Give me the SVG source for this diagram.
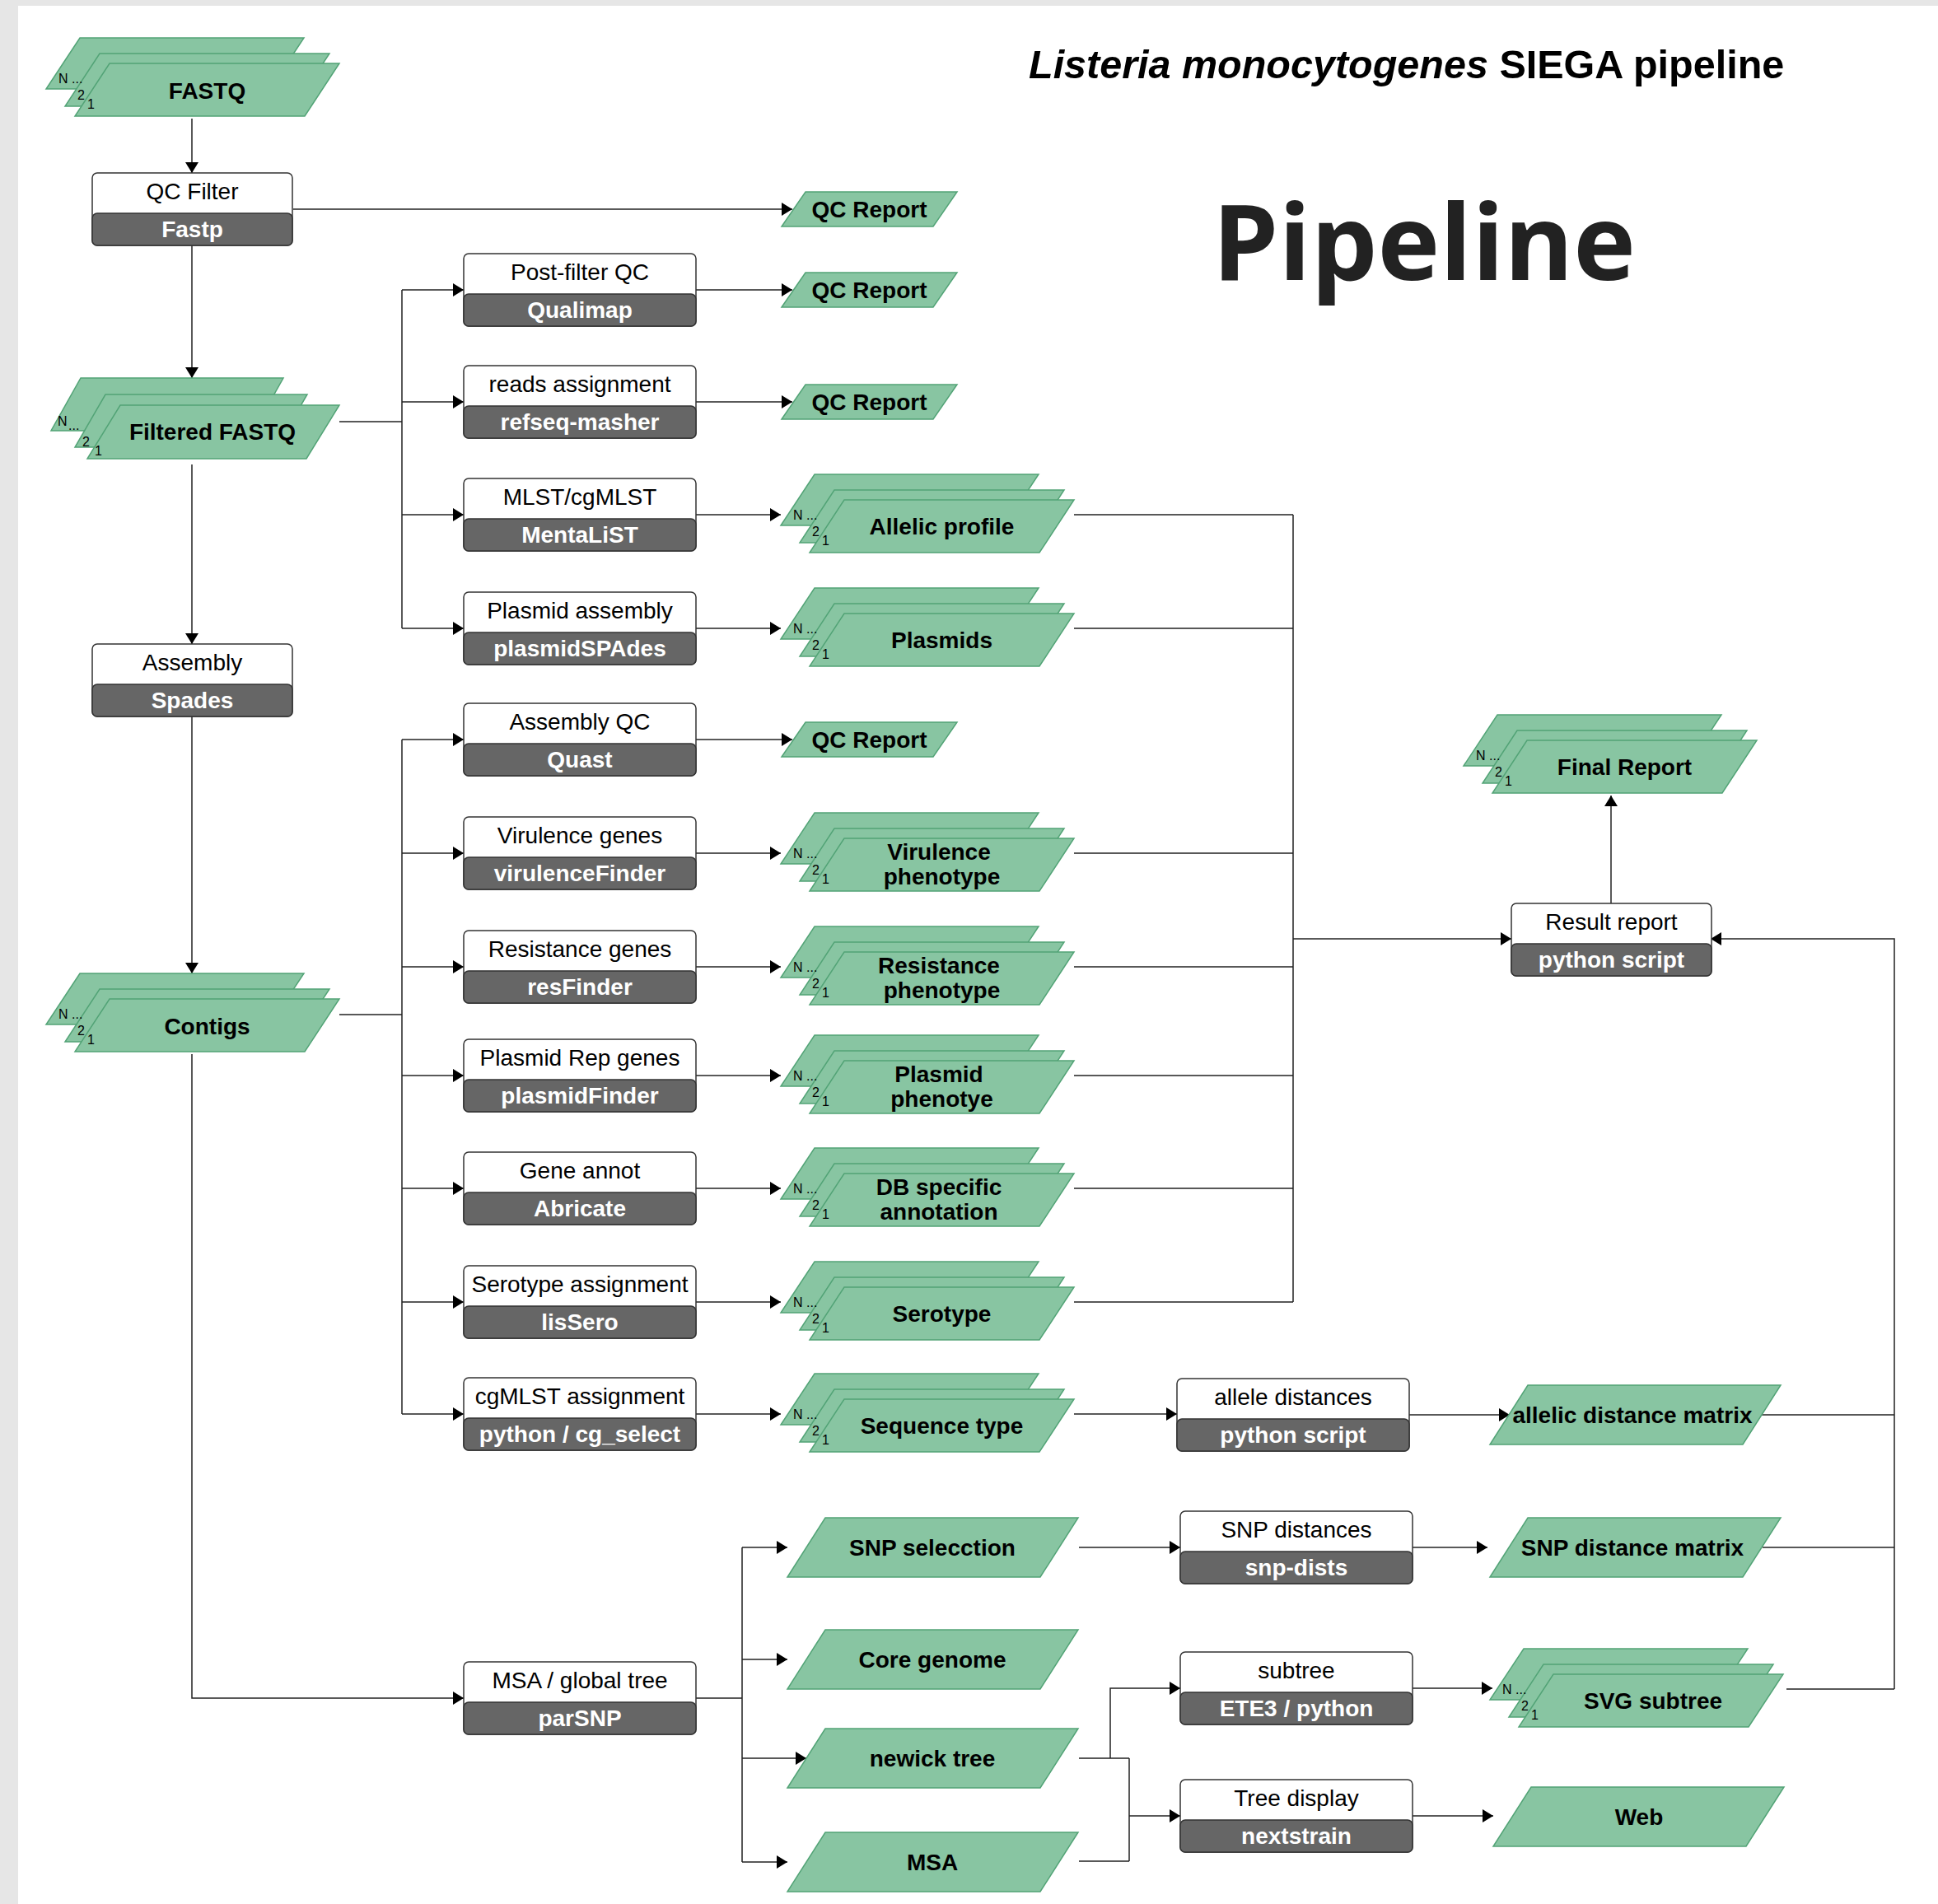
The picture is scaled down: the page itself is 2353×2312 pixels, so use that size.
<svg xmlns="http://www.w3.org/2000/svg" xmlns:xlink="http://www.w3.org/1999/xlink" width="2353" height="2312" viewBox="0 0 2353 2312">
<style>
.lbl{font-family:"Liberation Sans",Arial,sans-serif;font-size:28px;text-anchor:middle;fill:#000}
.tool{font-family:"Liberation Sans",Arial,sans-serif;font-size:28px;font-weight:bold;text-anchor:middle;fill:#fff}
.out{font-family:"Liberation Sans",Arial,sans-serif;font-size:28px;font-weight:bold;text-anchor:middle;fill:#000}
.idx{font-family:"Liberation Sans",Arial,sans-serif;font-size:16px;fill:#000}
.shape{fill:#88c5a2;stroke:#52a376;stroke-width:1.5}
.wbox{fill:#fff;stroke:#333;stroke-width:1.5}
.gbox{fill:#666;stroke:#333;stroke-width:1.5}
.conn{fill:none;stroke:#222;stroke-width:1.5}
.arr{marker-end:url(#ah)}
</style>
<defs>
<marker id="ah" markerUnits="userSpaceOnUse" markerWidth="14" markerHeight="16" refX="13" refY="8" orient="auto"><path d="M0,0 L13,8 L0,16 Z" fill="#000"/></marker>
<g id="stk">
<polygon class="shape" points="-36,-31 236,-31 195,31 -77,31"/>
<polygon class="shape" points="-12,-12 267,-12 225,52 -54,52"/>
<polygon class="shape" points="0,0 279,0 237,64 -42,64"/>
<text class="idx" x="-62" y="24">N ...</text>
<text class="idx" x="-39" y="44">2</text>
<text class="idx" x="-27" y="55">1</text>
</g>
<g id="sbox"><rect class="wbox" x="0" y="0" width="243" height="88" rx="6"/><rect class="gbox" x="0" y="49" width="243" height="39" rx="6"/></g>
<g id="bbox"><rect class="wbox" x="0" y="0" width="282" height="88" rx="6"/><rect class="gbox" x="0" y="49" width="282" height="39" rx="6"/></g>
<polygon id="qcr" class="shape" points="0,0 184,0 155,42 -29,42"/>
<polygon id="para" class="shape" points="0,0 307,0 261,72 -46,72"/>
</defs>

<rect x="0" y="0" width="2353" height="2312" fill="#e6e6e6"/>
<rect x="22" y="7" width="2331" height="2305" fill="#fff"/>

<g id="titles">
<text x="1249" y="95" font-family="'Liberation Sans',Arial,sans-serif" font-size="48.5" font-weight="bold" fill="#000"><tspan font-style="italic">Listeria monocytogenes</tspan> SIEGA pipeline</text>
<text x="1472" y="340" font-family="'Open Sans','Noto Sans',sans-serif" font-size="128" font-weight="700" fill="#222">Pipeline</text>
</g>

<g id="connectors">
<path class="conn arr" d="M233,144 V210"/>
<path class="conn arr" d="M233,298 V459"/>
<path class="conn arr" d="M356,254 H962"/>
<path class="conn arr" d="M233,564 V782"/>
<path class="conn arr" d="M233,870 V1182"/>
<path class="conn" d="M412,512 H488 M488,352 V763"/>
<path class="conn arr" d="M488,352 H563"/>
<path class="conn arr" d="M488,488 H563"/>
<path class="conn arr" d="M488,625 H563"/>
<path class="conn arr" d="M488,763 H563"/>
<path class="conn" d="M412,1232 H488 M488,898 V1717"/>
<path class="conn arr" d="M488,898 H563"/>
<path class="conn arr" d="M488,1036 H563"/>
<path class="conn arr" d="M488,1174 H563"/>
<path class="conn arr" d="M488,1306 H563"/>
<path class="conn arr" d="M488,1443 H563"/>
<path class="conn arr" d="M488,1581 H563"/>
<path class="conn arr" d="M488,1717 H563"/>
<path class="conn arr" d="M233,1280 V2062 H563"/>
<path class="conn arr" d="M845,352 H962"/>
<path class="conn arr" d="M845,488 H962"/>
<path class="conn arr" d="M845,625 H948"/>
<path class="conn arr" d="M845,763 H948"/>
<path class="conn arr" d="M845,898 H962"/>
<path class="conn arr" d="M845,1036 H948"/>
<path class="conn arr" d="M845,1174 H948"/>
<path class="conn arr" d="M845,1306 H948"/>
<path class="conn arr" d="M845,1443 H948"/>
<path class="conn arr" d="M845,1581 H948"/>
<path class="conn arr" d="M845,1717 H948"/>
<path class="conn" d="M1304,625 H1570 M1304,763 H1570 M1304,1036 H1570 M1304,1174 H1570 M1304,1306 H1570 M1304,1443 H1570 M1304,1581 H1570 M1570,625 V1581"/>
<path class="conn arr" d="M1570,1140 H1835"/>
<path class="conn arr" d="M1304,1717 H1429"/>
<path class="conn arr" d="M1711,1718 H1833"/>
<path class="conn" d="M2139,1718 H2300 M2140,1879 H2300 M2169,2051 H2300"/>
<path class="conn arr" d="M2300,2051 V1140 H2077"/>
<path class="conn arr" d="M1956,1097 V966"/>
<path class="conn" d="M845,2062 H901 M901,1879 V2261"/>
<path class="conn arr" d="M901,1879 H956"/>
<path class="conn arr" d="M901,2015 H956"/>
<path class="conn arr" d="M901,2135 H979"/>
<path class="conn arr" d="M901,2261 H956"/>
<path class="conn arr" d="M1310,1879 H1433"/>
<path class="conn arr" d="M1715,1879 H1806"/>
<path class="conn" d="M1310,2135 H1371 M1371,2135 V2260 M1310,2260 H1371"/>
<path class="conn arr" d="M1348,2135 V2050 H1433"/>
<path class="conn arr" d="M1371,2205 H1433"/>
<path class="conn arr" d="M1715,2050 H1812"/>
<path class="conn arr" d="M1715,2205 H1813"/>
</g>

<g id="fastq"><use xlink:href="#stk" x="133" y="77"/><text class="out" x="251.5" y="120">FASTQ</text></g>
<g id="qcfilter"><use xlink:href="#sbox" x="112" y="210"/><text class="lbl" x="233.5" y="242">QC Filter</text><text class="tool" x="233.5" y="288">Fastp</text></g>
<g id="filteredfastq">
<polygon class="shape" points="98,459 344,459 308,523 62,523"/>
<polygon class="shape" points="128,479 373,479 336,543 91,543"/>
<polygon class="shape" points="146,492 412,492 372,557 106,557"/>
<text class="idx" x="70" y="517">N</text><text class="idx" x="83" y="522">...</text>
<text class="idx" x="100" y="542">2</text>
<text class="idx" x="115" y="553">1</text>
<text class="out" x="258" y="534">Filtered FASTQ</text>
</g>
<g id="assembly"><use xlink:href="#sbox" x="112" y="782"/><text class="lbl" x="233.5" y="814">Assembly</text><text class="tool" x="233.5" y="860">Spades</text></g>
<g id="contigs"><use xlink:href="#stk" x="133" y="1213"/><text class="out" x="251.5" y="1256">Contigs</text></g>

<g id="postfilterqc"><use xlink:href="#bbox" x="563" y="308"/><text class="lbl" x="704" y="340">Post-filter QC</text><text class="tool" x="704" y="386">Qualimap</text></g>
<g id="readsassign"><use xlink:href="#bbox" x="563" y="444"/><text class="lbl" x="704" y="476">reads assignment</text><text class="tool" x="704" y="522">refseq-masher</text></g>
<g id="mlst"><use xlink:href="#bbox" x="563" y="581"/><text class="lbl" x="704" y="613">MLST/cgMLST</text><text class="tool" x="704" y="659">MentaLiST</text></g>
<g id="plasmidassembly"><use xlink:href="#bbox" x="563" y="719"/><text class="lbl" x="704" y="751">Plasmid assembly</text><text class="tool" x="704" y="797">plasmidSPAdes</text></g>
<g id="assemblyqc"><use xlink:href="#bbox" x="563" y="854"/><text class="lbl" x="704" y="886">Assembly QC</text><text class="tool" x="704" y="932">Quast</text></g>
<g id="virulencegenes"><use xlink:href="#bbox" x="563" y="992"/><text class="lbl" x="704" y="1024">Virulence genes</text><text class="tool" x="704" y="1070">virulenceFinder</text></g>
<g id="resistancegenes"><use xlink:href="#bbox" x="563" y="1130"/><text class="lbl" x="704" y="1162">Resistance genes</text><text class="tool" x="704" y="1208">resFinder</text></g>
<g id="plasmidrep"><use xlink:href="#bbox" x="563" y="1262"/><text class="lbl" x="704" y="1294">Plasmid Rep genes</text><text class="tool" x="704" y="1340">plasmidFinder</text></g>
<g id="geneannot"><use xlink:href="#bbox" x="563" y="1399"/><text class="lbl" x="704" y="1431">Gene annot</text><text class="tool" x="704" y="1477">Abricate</text></g>
<g id="serotypeassign"><use xlink:href="#bbox" x="563" y="1537"/><text class="lbl" x="704" y="1569">Serotype assignment</text><text class="tool" x="704" y="1615">lisSero</text></g>
<g id="cgmlstassign"><use xlink:href="#bbox" x="563" y="1673"/><text class="lbl" x="704" y="1705">cgMLST assignment</text><text class="tool" x="704" y="1751">python / cg_select</text></g>
<g id="msaglobal"><use xlink:href="#bbox" x="563" y="2018"/><text class="lbl" x="704" y="2050">MSA / global tree</text><text class="tool" x="704" y="2096">parSNP</text></g>

<g id="qcreport1"><use xlink:href="#qcr" x="978" y="233"/><text class="out" x="1055.5" y="264">QC Report</text></g>
<g id="qcreport2"><use xlink:href="#qcr" x="978" y="331"/><text class="out" x="1055.5" y="362">QC Report</text></g>
<g id="qcreport3"><use xlink:href="#qcr" x="978" y="467"/><text class="out" x="1055.5" y="498">QC Report</text></g>
<g id="qcreport4"><use xlink:href="#qcr" x="978" y="877"/><text class="out" x="1055.5" y="908">QC Report</text></g>

<g id="allelicprofile"><use xlink:href="#stk" x="1025" y="607"/><text class="out" x="1143.5" y="649">Allelic profile</text></g>
<g id="plasmids"><use xlink:href="#stk" x="1025" y="745"/><text class="out" x="1143.5" y="787">Plasmids</text></g>
<g id="virulencepheno"><use xlink:href="#stk" x="1025" y="1018"/><text class="out" x="1140" y="1044">Virulence</text><text class="out" x="1143.5" y="1074">phenotype</text></g>
<g id="resistancepheno"><use xlink:href="#stk" x="1025" y="1156"/><text class="out" x="1140" y="1182">Resistance</text><text class="out" x="1143.5" y="1212">phenotype</text></g>
<g id="plasmidpheno"><use xlink:href="#stk" x="1025" y="1288"/><text class="out" x="1140" y="1314">Plasmid</text><text class="out" x="1143.5" y="1344">phenotye</text></g>
<g id="dbspecific"><use xlink:href="#stk" x="1025" y="1425"/><text class="out" x="1140" y="1451">DB specific</text><text class="out" x="1140" y="1481">annotation</text></g>
<g id="serotype"><use xlink:href="#stk" x="1025" y="1563"/><text class="out" x="1143.5" y="1605">Serotype</text></g>
<g id="sequencetype"><use xlink:href="#stk" x="1025" y="1699"/><text class="out" x="1143.5" y="1741">Sequence type</text></g>

<g id="snpselection"><use xlink:href="#para" x="1002" y="1843"/><text class="out" x="1132" y="1889">SNP selecction</text></g>
<g id="coregenome"><use xlink:href="#para" x="1002" y="1979"/><text class="out" x="1132" y="2025">Core genome</text></g>
<g id="newicktree"><use xlink:href="#para" x="1002" y="2099"/><text class="out" x="1132" y="2145">newick tree</text></g>
<g id="msa"><use xlink:href="#para" x="1002" y="2225"/><text class="out" x="1132" y="2271">MSA</text></g>

<g id="alleledistances"><use xlink:href="#bbox" x="1429" y="1674"/><text class="lbl" x="1570" y="1706">allele distances</text><text class="tool" x="1570" y="1752">python script</text></g>
<g id="snpdistances"><use xlink:href="#bbox" x="1433" y="1835"/><text class="lbl" x="1574" y="1867">SNP distances</text><text class="tool" x="1574" y="1913">snp-dists</text></g>
<g id="subtree"><use xlink:href="#bbox" x="1433" y="2006"/><text class="lbl" x="1574" y="2038">subtree</text><text class="tool" x="1574" y="2084">ETE3 / python</text></g>
<g id="treedisplay"><use xlink:href="#bbox" x="1433" y="2161"/><text class="lbl" x="1574" y="2193">Tree display</text><text class="tool" x="1574" y="2239">nextstrain</text></g>

<g id="allelicmatrix"><use xlink:href="#para" x="1855" y="1682"/><text class="out" x="1982" y="1728">allelic distance matrix</text></g>
<g id="snpmatrix"><use xlink:href="#para" x="1855" y="1843"/><text class="out" x="1982" y="1889">SNP distance matrix</text></g>
<g id="svgsubtree"><use xlink:href="#stk" x="1886" y="2033"/><text class="out" x="2007" y="2075">SVG subtree</text></g>
<g id="web"><use xlink:href="#para" x="1859" y="2170"/><text class="out" x="1990" y="2216">Web</text></g>

<g id="resultreport"><use xlink:href="#sbox" x="1835" y="1097"/><text class="lbl" x="1956.5" y="1129">Result report</text><text class="tool" x="1956.5" y="1175">python script</text></g>
<g id="finalreport"><use xlink:href="#stk" x="1854" y="899"/><text class="out" x="1972.5" y="941">Final Report</text></g>
</svg>
